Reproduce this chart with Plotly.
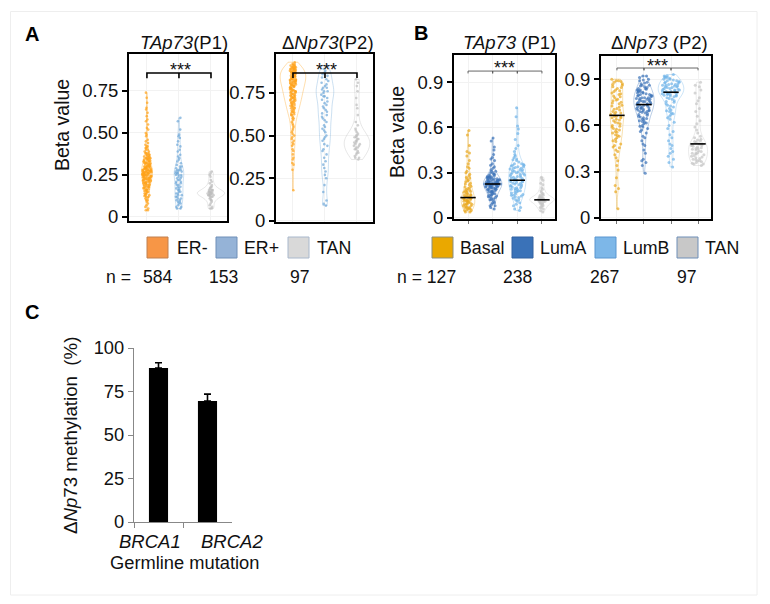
import plotly.graph_objects as go

W, H = 770, 604

# ---------- data ----------
A_groups = ["ER-", "ER+", "TAN"]
B_groups = ["Basal", "LumA", "LumB", "TAN"]
n_A = [584, 153, 97]
n_B = [127, 238, 267, 97]

A1_ERneg = [.74,.71,.68,.65,.64,.62,.60,.58,.57,.55,.53,.52,.50,.49,.48,.46,.45,.44,.43,.42,.42,.41,.41,.40,.40,.39,.39,.38,.38,.38,.37,.37,.37,.36,.36,.36,.35,.35,.35,.35,.34,.34,.34,.33,.33,.33,.33,.32,.32,.32,.32,.31,.31,.31,.31,.30,.30,.30,.30,.30,.29,.29,.29,.29,.29,.28,.28,.28,.28,.28,.27,.27,.27,.27,.27,.27,.26,.26,.26,.26,.26,.25,.25,.25,.25,.25,.24,.24,.24,.24,.23,.23,.23,.23,.22,.22,.22,.22,.21,.21,.21,.20,.20,.20,.19,.19,.19,.18,.18,.18,.17,.17,.16,.16,.15,.15,.14,.14,.13,.13,.12,.12,.11,.10,.10,.09,.08,.07,.06,.05,.04,.04,
            .375,.365,.355,.345,.335,.325,.315,.305,.295,.295,.285,.285,.275,.275,.275,.265,.265,.265,.255,.255,.255,.245,.245,.245,.235,.235,.235,.225,.225,.215,.215,.205,.205,.195,.185,.175,.165,.155,.145,.135,.125,.115,.305,.295,.285,.275,.265,.255,.245,.235,.225,.215,.205,.195,.185,.175,.165,.155,.345,.335,.325,.315]
A1_ERpos = [.59,.57,.52,.49,.48,.47,.45,.43,.42,.40,.39,.37,.36,.35,.34,.33,.32,.31,.30,.30,.29,.29,.28,.28,.28,.27,.27,.27,.26,.26,.26,.25,.25,.25,.24,.24,.23,.23,.22,.22,.21,.21,.20,.20,.19,.19,.18,.18,.17,.17,.16,.16,.15,.15,.14,.14,.13,.13,.12,.12,.11,.11,.10,.10,.09,.09,.08,.08,.07,.06,.06,.05,.05]
A1_TAN = [.27,.26,.25,.24,.22,.21,.20,.19,.18,.18,.17,.17,.16,.16,.16,.16,.15,.15,.15,.15,.15,.14,.14,.14,.14,.14,.14,.14,.13,.13,.13,.13,.13,.12,.12,.12,.11,.11,.10,.10,.09,.08,.07,.06,.05,.05]

A2_ERneg = [.93,.92,.92,.91,.91,.91,.90,.90,.90,.90,.89,.89,.89,.89,.88,.88,.88,.88,.87,.87,.87,.87,.86,.86,.86,.86,.85,.85,.85,.85,.84,.84,.84,.84,.83,.83,.83,.83,.82,.82,.82,.82,.81,.81,.81,.80,.80,.80,.79,.79,.79,.78,.78,.78,.77,.77,.76,.76,.76,.75,.75,.74,.74,.73,.73,.72,.72,.71,.71,.70,.70,.69,.69,.68,.68,.67,.67,.66,.66,.65,.64,.64,.63,.62,.62,.61,.60,.60,.59,.58,.57,.56,.55,.54,.53,.52,.51,.50,.49,.48,.47,.46,.45,.44,.42,.41,.39,.37,.36,.34,.33,.30,.18,
            .915,.905,.895,.885,.875,.865,.855,.845,.835,.825,.815,.805,.795,.785,.775,.765,.755,.745,.735,.725,.715,.705,.695,.685,.675,.665,.655,.645,.635,.625,.895,.885,.875,.865,.855,.845,.835,.825,.815,.805,.795,.785,.775,.765,.755,.745,.735,.725,.715,.705]
A2_ERpos = [.91,.89,.88,.87,.86,.85,.84,.83,.82,.81,.80,.79,.78,.78,.77,.76,.76,.75,.74,.73,.73,.72,.71,.70,.69,.68,.67,.66,.65,.64,.63,.62,.61,.60,.59,.58,.56,.55,.54,.53,.52,.50,.49,.48,.47,.45,.44,.42,.41,.39,.37,.35,.33,.31,.29,.27,.25,.21,.17,.12,.10,.09]
A2_TAN = [.83,.81,.79,.76,.72,.68,.66,.62,.58,.56,.54,.53,.52,.51,.50,.50,.49,.49,.48,.48,.47,.47,.46,.46,.45,.45,.44,.44,.43,.43,.42,.42,.41,.40,.40,.39,.38,.37,.37,.36]

B1_Basal = [.58,.55,.48,.44,.43,.41,.38,.36,.34,.33,.31,.30,.29,.28,.27,.26,.25,.24,.23,.22,.21,.20,.19,.18,.18,.17,.17,.16,.16,.15,.15,.14,.14,.14,.13,.13,.13,.12,.12,.12,.11,.11,.11,.10,.10,.09,.09,.09,.08,.08,.07,.07,.07,.06,.06,.05,.05,.04,.04,
            .155,.145,.135,.125,.115,.105,.095,.085,.075,.065,.055,.205,.195,.185,.175,.265,.245,.225]
B1_LumA = [.53,.51,.47,.45,.42,.40,.39,.38,.36,.35,.34,.33,.32,.31,.31,.30,.30,.29,.29,.28,.28,.27,.27,.27,.26,.26,.26,.25,.25,.25,.24,.24,.24,.24,.23,.23,.23,.23,.23,.22,.22,.22,.22,.21,.21,.21,.21,.20,.20,.20,.19,.19,.19,.18,.18,.17,.17,.16,.16,.15,.15,.14,.14,.13,.12,.12,.11,.10,.10,.09,.08,.08,.07,.06,
           .285,.275,.265,.255,.245,.235,.225,.215,.205,.195,.185,.175,.165,.155,.145,.135,.125,.25,.24,.23,.22,.21,.20,.26,.27,.235,.225,.215,.205,.255,.245,.185,.175]
B1_LumB = [.73,.67,.61,.59,.56,.52,.48,.46,.44,.42,.41,.40,.39,.38,.37,.36,.36,.35,.35,.34,.34,.33,.33,.32,.32,.31,.31,.30,.30,.29,.29,.28,.28,.27,.27,.26,.26,.25,.25,.25,.24,.24,.23,.23,.22,.22,.21,.21,.20,.20,.19,.19,.18,.18,.17,.16,.15,.15,.14,.13,.12,.12,.11,.10,.09,.08,.07,.06,.05,
           .385,.355,.345,.325,.305,.295,.275,.265,.245,.235,.215,.205,.185,.165,.145,.335,.315,.285,.255,.225,.195,.175,.155,.135]
B1_TAN = [.27,.26,.25,.23,.22,.20,.19,.18,.17,.16,.16,.15,.15,.14,.14,.14,.13,.13,.13,.13,.13,.12,.12,.12,.12,.12,.12,.11,.11,.11,.11,.10,.10,.10,.09,.09,.08,.08,.07,.07,.06,.05,.04]

B2_Basal = [.90,.89,.89,.88,.87,.86,.85,.84,.83,.82,.81,.80,.79,.78,.77,.76,.75,.74,.73,.72,.71,.70,.69,.68,.67,.66,.66,.65,.65,.64,.63,.62,.61,.60,.59,.58,.57,.56,.55,.54,.53,.52,.51,.50,.48,.47,.46,.44,.43,.41,.39,.37,.34,.31,.26,.21,.19,.17,.06,
            .885,.865,.845,.825,.805,.785,.765,.745,.725,.705,.685,.675,.655,.635,.615,.595,.575,.555,.535,.495,.455]
B2_LumA = [.92,.92,.91,.90,.89,.88,.87,.86,.86,.85,.84,.84,.83,.83,.82,.82,.81,.81,.80,.80,.79,.79,.78,.78,.78,.77,.77,.76,.76,.75,.75,.74,.74,.73,.73,.72,.72,.71,.71,.70,.70,.69,.69,.68,.67,.66,.65,.64,.63,.62,.61,.60,.59,.58,.57,.56,.55,.53,.52,.50,.48,.47,.44,.42,.38,.37,.36,.34,.29,
           .895,.875,.855,.835,.815,.805,.795,.785,.775,.765,.755,.745,.735,.725,.715,.705,.695,.685,.675,.655,.635,.615,.595,.845,.825,.795,.775,.755,.735,.715,.695,.665,.645,.625]
B2_LumB = [.93,.92,.92,.91,.91,.90,.90,.89,.89,.88,.88,.87,.87,.86,.86,.85,.85,.84,.84,.83,.83,.82,.82,.81,.81,.80,.80,.79,.79,.78,.77,.76,.75,.74,.73,.72,.71,.70,.69,.68,.67,.66,.65,.64,.62,.60,.58,.56,.54,.52,.50,.48,.47,.45,.43,.42,.40,.38,.36,.33,
           .915,.905,.895,.885,.875,.865,.855,.845,.835,.825,.815,.805,.795,.785,.775,.865,.855,.845,.835,.825,.815,.805,.795,.755,.725,.695,.675]
B2_TAN = [.88,.86,.85,.83,.81,.78,.76,.74,.71,.69,.66,.63,.61,.59,.57,.55,.53,.52,.51,.50,.49,.48,.48,.47,.47,.46,.45,.45,.44,.43,.42,.42,.41,.40,.39,.38,.37,.37,.36,.35,.35,.34,
          .505,.495,.475,.465,.455,.445,.435,.425,.415,.405,.395,.385,.375,.365,.355]

B1_medians = [.135, .225, .25, .12]
B2_medians = [.665, .735, .815, .48]

C_cats = ["BRCA1", "BRCA2"]
C_vals = [88.5, 69.5]
C_errs = [3.0, 4.0]

A_ticks = [0, .25, .5, .75]
A_ticktext = ["0", "0.25", "0.50", "0.75"]
B_ticks = [0, .3, .6, .9]
B_ticktext = ["0", "0.3", "0.6", "0.9"]
C_ticks = [0, 25, 50, 75, 100]

# ---------- styles ----------
FONT = "Liberation Sans, Arial, sans-serif"
C_A_pts = ["#FFA31A", "#6FA8D8", "#BDBDBD"]
C_B_pts = ["#E9A820", "#3A72B8", "#6FB3E8", "#C4C4C4"]
SW_A = ["#F79646", "#95B3D7", "#D9D9D9"]
SW_B = ["#EAA800", "#3A72B8", "#7DB7E8", "#C8C8C8"]
SW_EDGE_A = ["#C08050", "#6F8FB8", "#A9B8CC"]
SW_EDGE_B = ["#8A8F80", "#3060A0", "#5A96D0", "#6F8FB8"]


def fx(p):
    return p / W


def fy(p):
    return 1 - p / H


fig = go.Figure()

panels = {
    "1": dict(box=(129, 227, 54, 221), yr=(-0.024, 0.97), xr=(-0.56, 2.5), ticks=A_ticks, tt=A_ticktext, cats=A_groups),
    "2": dict(box=(276, 373, 54, 222), yr=(-0.006, 0.978), xr=(-0.53, 2.5), ticks=A_ticks, tt=A_ticktext, cats=A_groups),
    "3": dict(box=(454, 555, 55, 219), yr=(-0.007, 1.08), xr=(-0.57, 3.53), ticks=B_ticks, tt=B_ticktext, cats=B_groups),
    "4": dict(box=(601, 711, 56, 219), yr=(-0.007, 1.05), xr=(-0.59, 3.48), ticks=B_ticks, tt=B_ticktext, cats=B_groups),
}

layout_axes = {}
for k, p in panels.items():
    l, r, t, b = p["box"]
    layout_axes[f"xaxis{k}"] = dict(
        domain=[fx(l), fx(r)], anchor=f"y{k}", type="category", categoryorder="array", automargin=False,
        categoryarray=p["cats"], range=list(p["xr"]), showticklabels=False,
        ticks="outside" if k in "34" else "", ticklen=3, tickcolor="#777", tickwidth=1,
        showline=True, linecolor="black", linewidth=2, mirror=True,
        showgrid=True, gridcolor="#F2F2F2", gridwidth=1, zeroline=False,
    )
    layout_axes[f"yaxis{k}"] = dict(
        domain=[fy(b), fy(t)], anchor=f"x{k}", range=list(p["yr"]), automargin=False,
        tickmode="array", tickvals=p["ticks"], ticktext=p["tt"],
        ticks="outside", ticklen=5, tickwidth=1.5, tickcolor="black",
        tickfont=dict(size=18.5, color="#111", family=FONT),
        showline=True, linecolor="black", linewidth=2, mirror=True,
        showgrid=True, gridcolor="#F2F2F2", gridwidth=1, zeroline=False,
    )


def rgba(hex_color, a):
    return "rgba(%d,%d,%d,%s)" % (int(hex_color[1:3], 16), int(hex_color[3:5], 16), int(hex_color[5:7], 16), a)


def add_violin(k, cat, vals, color, width, jitter, bw, msize=2.6):
    fig.add_trace(go.Violin(
        x=[cat] * len(vals), y=vals, name=cat, xaxis=f"x{k}", yaxis=f"y{k}",
        points="all", pointpos=0, jitter=jitter, width=width, scalemode="width",
        spanmode="hard", bandwidth=bw, fillcolor="rgba(0,0,0,0)",
        line=dict(color=rgba(color, .6), width=0.6), box_visible=False, meanline_visible=False,
        marker=dict(color=color, size=msize, opacity=0.7, line_width=0),
        showlegend=False, hoverinfo="skip",
    ))


for cat, vals, col, w, j, bw in zip(A_groups, [A1_ERneg, A1_ERpos, A1_TAN], C_A_pts, [.34, .3, .85], [.85, .85, .3], [.03, .03, .015]):
    add_violin("1", cat, vals, col, w, j, bw)
for cat, vals, col, w, j in zip(A_groups, [A2_ERneg, A2_ERpos, A2_TAN], C_A_pts, [.8, .55, .8], [.25, .45, .25]):
    add_violin("2", cat, vals, col, w, j, .035)
for cat, vals, col, w, j, bw in zip(B_groups, [B1_Basal, B1_LumA, B1_LumB, B1_TAN], C_B_pts, [.55, .75, .7, 1.0], [.8, .9, .9, .4], [.03, .03, .03, .015]):
    add_violin("3", cat, vals, col, w, j, bw, 3)
for cat, vals, col, w, j in zip(B_groups, [B2_Basal, B2_LumA, B2_LumB, B2_TAN], C_B_pts, [.5, .75, .95, .7], [.9, .8, .7, .8]):
    add_violin("4", cat, vals, col, w, j, .035, 3)

# medians in panel B
for k, meds in (("3", B1_medians), ("4", B2_medians)):
    fig.add_trace(go.Scatter(
        x=B_groups, y=meds, mode="markers", xaxis=f"x{k}", yaxis=f"y{k}", showlegend=False,
        marker=dict(symbol="line-ew", size=11, line=dict(color="black", width=1.6)), hoverinfo="skip",
    ))


# significance brackets
def bracket(k, cats, hi, lo, color, width):
    xs, ys = [cats[0]], [lo]
    for i, c in enumerate(cats):
        if i == 0:
            xs.append(c); ys.append(hi)
        else:
            xs += [c, c] + ([c] if i < len(cats) - 1 else [])
            ys += [hi, lo] + ([hi] if i < len(cats) - 1 else [])
    fig.add_trace(go.Scatter(x=xs, y=ys, mode="lines", xaxis=f"x{k}", yaxis=f"y{k}", showlegend=False,
                             line=dict(color=color, width=width, shape="linear"), hoverinfo="skip"))


bracket("1", A_groups, .857, .826, "black", 1.6)
bracket("2", A_groups, .867, .838, "black", 1.6)
bracket("3", B_groups, .9735, .958, "#555", 0.9)
bracket("4", B_groups, .972, .957, "#555", 0.9)

# panel C
fig.add_trace(go.Bar(
    x=C_cats, y=C_vals, xaxis="x5", yaxis="y5", width=0.39, marker=dict(color="black", line_width=0),
    error_y=dict(type="data", symmetric=False, array=C_errs, arrayminus=[0, 0], color="black", thickness=1.6, width=3.5),
    showlegend=False, hoverinfo="skip",
))
layout_axes["xaxis5"] = dict(
    domain=[fx(134), fx(232)], anchor="y5", type="category", tickson="boundaries", ticks="outside", ticklen=5, automargin=False,
    tickcolor="#888", tickwidth=1.3, showline=True, linecolor="#888", linewidth=1.3, showticklabels=False,
    showgrid=False, zeroline=False, range=[-0.5, 1.5],
)
layout_axes["yaxis5"] = dict(
    domain=[fy(522), fy(348)], anchor="x5", range=[0, 100], tickmode="array", tickvals=C_ticks, automargin=False,
    ticks="outside", ticklen=5, tickcolor="#888", tickwidth=1.3, showline=True, linecolor="#888", linewidth=1.3,
    showgrid=False, zeroline=False, tickfont=dict(size=18.3, color="#111", family=FONT),
)


# ---------- text ----------
def text(x, y, s, size=17, anchor="center", color="#111", rot=0):
    if anchor == "left":
        x -= 2
    return dict(x=fx(x), y=fy(y), xref="paper", yref="paper", text=s, showarrow=False, xanchor=anchor,
                yanchor="middle", textangle=rot, font=dict(size=size, color=color, family=FONT))


ann = [
    text(25, 34, "<b>A</b>", 20, "left", "black"),
    text(414, 33, "<b>B</b>", 20, "left", "black"),
    text(25, 312, "<b>C</b>", 20, "left", "black"),
    text(184, 42, "<i>TAp73</i>(P1)", 18.5),
    text(328, 42, "Δ<i>Np73</i>(P2)", 18.5),
    text(509, 42, "<i>TAp73</i> (P1)", 18.5),
    text(659, 42, "Δ<i>Np73</i> (P2)", 18.5),
    text(62, 125, "Beta value", 19.5, rot=-90),
    text(397, 132, "Beta value", 19.5, rot=-90),
    text(70, 436, "Δ<i>Np</i>73 methylation  (%)", 18.7, rot=-90),
    text(150, 541, "<i>BRCA1</i>", 18.5),
    text(232, 541, "<i>BRCA2</i>", 18.5),
    text(184, 562, "Germline mutation", 18.3),
    text(180, 70, "***", 18),
    text(326, 70, "***", 18),
    text(504, 68, "***", 18),
    text(657, 66, "***", 18),
    text(106, 277, "n =", 17.6, "left"),
    text(397, 277, f"n = {n_B[0]}", 17.6, "left"),
]
for x, v in zip([143, 209, 290], n_A):
    ann.append(text(x, 277, str(v), 17.6, "left"))
for x, v in zip([503, 590, 677], n_B[1:]):
    ann.append(text(x, 277, str(v), 17.6, "left"))

shapes = [dict(type="rect", xref="paper", yref="paper", x0=fx(10.5), x1=fx(757), y0=fy(595), y1=fy(11.5),
               line=dict(color="#EEEEEE", width=1), fillcolor="rgba(0,0,0,0)", layer="below")]
for x0, tx, lab, col, ed in zip([147, 216, 288], [177, 244, 317], A_groups, SW_A, SW_EDGE_A):
    shapes.append(dict(type="rect", xref="paper", yref="paper", x0=fx(x0), x1=fx(x0 + 21), y0=fy(258), y1=fy(237),
                       fillcolor=col, line=dict(color=ed, width=1)))
    ann.append(text(tx, 248, lab, 17.8, "left"))
for x0, tx, lab, col, ed in zip([432, 512, 595, 677], [460, 540, 623, 705], B_groups, SW_B, SW_EDGE_B):
    shapes.append(dict(type="rect", xref="paper", yref="paper", x0=fx(x0), x1=fx(x0 + 21), y0=fy(258), y1=fy(237),
                       fillcolor=col, line=dict(color=ed, width=1)))
    ann.append(text(tx, 248, lab, 17.8, "left"))

fig.update_layout(
    width=W, height=H, margin=dict(l=0, r=0, t=0, b=0), autosize=False, paper_bgcolor="white", plot_bgcolor="white",
    violinmode="overlay", annotations=ann, shapes=shapes, showlegend=False, font=dict(family=FONT),
    **layout_axes,
)
fig.write_html("out.html", config=dict(displayModeBar=False), post_script="document.body.style.margin='0';")
